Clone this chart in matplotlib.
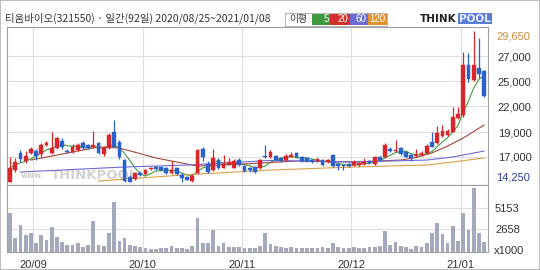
import matplotlib
matplotlib.use("Agg")
import matplotlib.pyplot as plt
from matplotlib.patches import Rectangle
import numpy as np
import pandas as pd

# ---------------- data ----------------
title = "티움바이오(321550) · 일간(92일) 2020/08/25~2021/01/08"

opens = [14250, 15500, 17200, 16400, 17180, 17400, 17100, 18000, 17200, 17750,
         18450, 17450, 17350, 17500, 18200, 18000, 17800, 18200, 17100, 17700,
         19350, 18300, 16500, 14800, 14550, 15200, 15050, 15550, 15750, 15800,
         15650, 15150, 15650, 14950, 14800, 14350, 15150, 17600, 16050, 15500,
         16500, 15700, 16050, 15700, 16500, 15900, 15650, 15800, 15650, 16950,
         16850, 16950, 16650, 16500, 16850, 17200, 16850, 16650, 16500, 16350,
         16500, 16250, 17050, 16050, 16000, 16050, 15950, 15950, 16100, 16400,
         16100, 16800, 16750, 17600, 17400, 17750, 17300, 17000, 16900, 17000,
         17200, 18350, 18200, 18900, 19050, 19400, 20800, 21050, 26150, 24700,
         25900, 25600]
highs = [16800, 16700, 17550, 17450, 17800, 17580, 18200, 18400, 19300, 18800,
         18700, 17650, 18100, 18200, 18400, 18150, 19500, 18300, 17900, 19200,
         20550, 18500, 16600, 15000, 15300, 15400, 15600, 15800, 15850, 15900,
         15800, 16400, 15750, 15150, 14900, 15050, 17600, 17850, 16350, 17600,
         16650, 17000, 16700, 16600, 16650, 16000, 15800, 15900, 16600, 18000,
         17550, 17050, 16750, 17100, 17300, 17300, 16950, 16750, 16550, 16700,
         16600, 16600, 17150, 16150, 16100, 16150, 16450, 16300, 16700, 16500,
         16950, 16900, 18200, 17800, 18550, 17850, 17400, 17100, 17600, 17400,
         18100, 19350, 20000, 20050, 19650, 21850, 21950, 27500, 27400, 29650,
         28900, 25700]
lows = [14250, 15300, 16250, 16200, 17100, 16500, 16800, 17900, 17100, 17650,
        17650, 17200, 17250, 17400, 17600, 17650, 17700, 17150, 16900, 17600,
        17800, 16600, 14300, 14250, 14450, 14850, 14950, 15450, 15450, 15350,
        15050, 15050, 14950, 14300, 14450, 14300, 15050, 16350, 15200, 15400,
        15600, 15650, 15950, 15650, 15900, 15300, 15300, 15200, 15550, 16650,
        16700, 16400, 16250, 16400, 16750, 16700, 16300, 16250, 16150, 16250,
        15900, 16150, 15800, 15450, 15500, 15750, 15850, 15850, 16000, 16050,
        16000, 16400, 16650, 17300, 17300, 17000, 16750, 16400, 16800, 16900,
        17100, 17800, 18100, 18800, 18950, 19300, 20700, 20900, 24500, 24600,
        24900, 22900]
closes = [15700, 16300, 16600, 16900, 17580, 16900, 18050, 18200, 17700, 18700,
          17800, 17350, 17850, 18000, 17750, 17750, 18000, 17250, 17700, 19050,
          17850, 16750, 14350, 14300, 15150, 14950, 15450, 15700, 15550, 15450,
          15150, 15450, 15050, 14700, 14500, 14900, 17500, 16850, 15300, 16650,
          15700, 16050, 16300, 16400, 16000, 15400, 15450, 15300, 16500, 16750,
          17350, 16500, 16350, 16950, 17050, 16800, 16400, 16350, 16250, 16600,
          16000, 16500, 15850, 15850, 15900, 15850, 16300, 16200, 16300, 16150,
          16750, 16500, 18050, 17450, 17550, 17100, 16850, 16700, 17050, 17250,
          17950, 17850, 19200, 19450, 19450, 20900, 21150, 26150, 24800, 26150,
          25300, 23050]
volumes = [4500, 1530, 3100, 1920, 2230, 1020, 1960, 1370, 2860, 1720,
           1140, 780, 740, 940, 550, 780, 3570, 780, 590, 2230,
           5840, 1250, 1530, 740, 630, 470, 390, 350, 270, 390,
           390, 700, 390, 390, 270, 590, 3920, 1020, 940, 2550,
           590, 1020, 470, 470, 470, 390, 390, 390, 700, 2230,
           900, 590, 510, 430, 510, 430, 430, 430, 430, 430,
           510, 430, 940, 510, 430, 430, 510, 430, 430, 510,
           510, 670, 2390, 820, 1140, 590, 510, 270, 590, 510,
           980, 2230, 3370, 2040, 1020, 3020, 1250, 4550, 2470, 7480,
           2160, 1140]

# moving averages (day index, price)
ma20_idx = [4, 10, 17, 21, 28, 36, 45, 55, 66, 75, 78, 81, 84, 87, 91]
ma20_val = [16490, 17100, 17820, 17720, 16700, 15880, 16090, 16390, 16290, 16490,
            16750, 17210, 17920, 18740, 20060]
ma60_idx = [2, 22, 34, 50, 66, 80, 85, 91]
ma60_val = [15270, 15780, 15980, 16450, 16290, 16490, 16800, 17410]
ma120_idx = [17, 33, 50, 66, 80, 85, 91]
ma120_val = [14350, 14960, 15470, 15780, 15980, 16290, 16700]

month_pos = [4.5, 25.5, 44.5, 65.5, 86.5]
month_labels = ["20/09", "20/10", "20/11", "20/12", "21/01"]

price_ticks = [27100, 24550, 22000, 19350, 16800]
price_labels = ["27,000", "25,000", "22,000", "19,000", "17,000"]
vol_ticks = [2658, 5153]
vol_labels = ["2658", "5153"]
vol_unit = "x1000"

legend_items = [("5", "#3f9a3f"), ("20", "#d0312d"), ("60", "#6b6bd6"), ("120", "#e2922c")]

# ---------------- styling ----------------
RED = "#d9262b"
BLUE = "#2b62c9"
GRID = "#dedede"
BORDER = "#a0a0a0"
VOLC = "#a3aabd"
num_font = "Liberation Sans"
kr_font = ["Noto Sans CJK KR", "DejaVu Sans"]

W, H = 540, 270
fig = plt.figure(figsize=(W / 100, H / 100), dpi=100)
fig.patch.set_facecolor("white")

def fx(px):
    return px / W

def fy(py):
    return 1 - py / H

ax = fig.add_axes([fx(7), fy(185), fx(481), 158 / H])
axv = fig.add_axes([fx(7), fy(251.5), fx(481), 66.5 / H])

n = len(closes)
x = np.arange(n)
o = np.array(opens); c = np.array(closes); hi = np.array(highs); lo = np.array(lows)
up = c >= o
colors = np.where(up, RED, BLUE)

xlim = (-0.576, 91.75)

# price panel
ax.set_xlim(*xlim)
ax.set_ylim(13944, 30060)
for m in month_pos:
    ax.axvline(m, color=GRID, lw=0.8, zorder=0)
for t in price_ticks:
    ax.axhline(t, color=GRID, lw=0.8, zorder=0)

ax.text(0.028, 0.045, "www.", transform=ax.transAxes, fontsize=5.5, color="#cfcfcf",
        fontweight="bold", family="DejaVu Sans", zorder=1)
ax.text(0.092, 0.035, "THINKPOOL", transform=ax.transAxes, fontsize=9.5, color="#d2d2d2",
        fontweight="bold", family="DejaVu Sans", zorder=1)

# moving averages
ma5 = pd.Series(closes).rolling(5, min_periods=1).mean()
ax.plot(x, ma5, color="#3f9a3f", lw=0.8, zorder=2)
ax.plot(ma20_idx, ma20_val, color="#a3473c", lw=0.8, zorder=2)
ax.plot(ma60_idx, ma60_val, color="#6b6bd6", lw=0.8, zorder=2)
ax.plot(ma120_idx, ma120_val, color="#d9a045", lw=0.8, zorder=2)

# candles
ax.vlines(x, lo, hi, colors=colors, lw=0.9, zorder=3)
body_bottom = np.minimum(o, c)
body_h = np.maximum(np.abs(c - o), 70)
ax.bar(x, body_h, bottom=body_bottom, width=0.72, color=colors, edgecolor=colors,
       lw=0.3, zorder=4)

ax.set_xticks([])
ax.yaxis.tick_right()
ax.set_yticks(price_ticks)
ax.set_yticklabels(price_labels, family=num_font, fontsize=8, color="#333333")
ax.tick_params(axis="y", length=0, pad=7)
lab_x = 1.0 + 8.5 / 481
ax.text(lab_x, max(highs), "29,650", transform=ax.get_yaxis_transform(), fontsize=8,
        family=num_font, color="#d08a3a", ha="left", va="top")
ax.text(lab_x, min(lows), "14,250", transform=ax.get_yaxis_transform(),
        fontsize=8, family=num_font, color="#2e3f9e", ha="left", va="bottom")
for s in ax.spines.values():
    s.set_color(BORDER)
    s.set_linewidth(0.8)

# volume panel
axv.set_xlim(*xlim)
axv.set_ylim(0, 7810)
for m in month_pos:
    axv.axvline(m, color=GRID, lw=0.8, zorder=0)
for t in vol_ticks:
    axv.axhline(t, color=GRID, lw=0.8, zorder=0)
axv.bar(x, volumes, width=0.72, color=VOLC, zorder=2)
axv.yaxis.tick_right()
axv.set_yticks(vol_ticks)
axv.set_yticklabels(vol_labels, family=num_font, fontsize=8, color="#333333")
axv.tick_params(axis="y", length=0, pad=5)
axv.text(1.0 + 6 / 481, 0, vol_unit, transform=axv.get_yaxis_transform(), fontsize=8,
         family=num_font, color="#333333", ha="left", va="center")
axv.set_xticks(month_pos)
axv.set_xticklabels(month_labels, family=num_font, fontsize=8, color="#333333")
axv.tick_params(axis="x", length=0, pad=6)
for s in axv.spines.values():
    s.set_color(BORDER)
    s.set_linewidth(0.8)

# title and legend
fig.text(fx(5), fy(18.5), title, family=kr_font, fontsize=7.5, color="#333333",
         ha="left", va="center")
fig.patches.append(Rectangle((fx(285), fy(25.5)), fx(102), 12.5 / H, transform=fig.transFigure,
                             facecolor="white", edgecolor="#b5b5b5", lw=0.7))
fig.text(fx(289), fy(19), "이평", family=kr_font, fontsize=7, color="#333333",
         ha="left", va="center")
lx = [312, 330, 350, 368]
lw_ = [18, 20, 18, 19]
for (lab, col), x0, w0 in zip(legend_items, lx, lw_):
    fig.patches.append(Rectangle((fx(x0), fy(24.5)), fx(w0), 11 / H, transform=fig.transFigure,
                                 facecolor=col, edgecolor="none"))
    fig.text(fx(x0 + w0 - 1.5), fy(19), lab, family=num_font, fontsize=7, color="white",
             ha="right", va="center")

# logo
fig.text(fx(420), fy(18.5), "THINK", family="DejaVu Sans", fontsize=7.5, fontweight="bold",
         color="#222222", ha="left", va="center")
fig.patches.append(Rectangle((fx(458), fy(24)), fx(34), 11 / H, transform=fig.transFigure,
                             facecolor="#5b7fd6", edgecolor="none"))
fig.text(fx(475), fy(18.5), "POOL", family="DejaVu Sans", fontsize=7.5, fontweight="bold",
         color="#e8eefc", ha="center", va="center")

# outer frame
fig.patches.append(Rectangle((0, 0), 1, 1, transform=fig.transFigure, fill=False,
                             edgecolor="#b0b0b0", lw=1.2))

fig.savefig("out.png", dpi=100)
